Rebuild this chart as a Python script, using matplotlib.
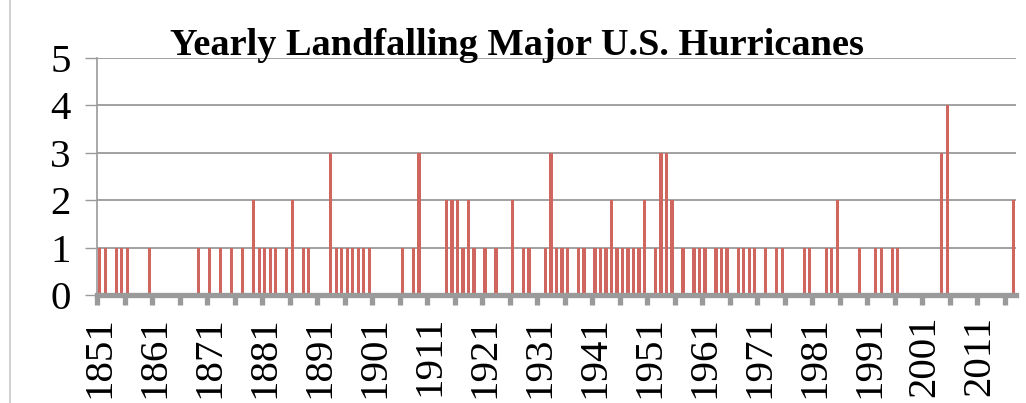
import numpy as np
import matplotlib
matplotlib.use('Agg')
import matplotlib.pyplot as plt
from matplotlib.ticker import FixedLocator

plt.rcParams['font.family'] = ['Liberation Serif', 'DejaVu Serif']

# 数据：有大型飓风登陆的年份及次数（其余年份为 0）
first_year = 1851
last_year = 2017
landfall_years = [1851, 1852, 1854, 1855, 1856, 1860, 1869, 1871, 1873, 1875,
                  1877, 1879, 1880, 1881, 1882, 1883, 1885, 1886, 1888, 1889,
                  1893, 1894, 1895, 1896, 1897, 1898, 1899, 1900, 1906, 1908,
                  1909, 1914, 1915, 1916, 1917, 1918, 1919, 1921, 1923, 1926,
                  1928, 1929, 1932, 1933, 1934, 1935, 1936, 1938, 1939, 1941,
                  1942, 1943, 1944, 1945, 1946, 1947, 1948, 1949, 1950, 1952,
                  1953, 1954, 1955, 1957, 1959, 1960, 1961, 1963, 1964, 1965,
                  1967, 1968, 1969, 1970, 1972, 1974, 1975, 1979, 1980, 1983,
                  1984, 1985, 1989, 1992, 1993, 1995, 1996, 2004, 2005, 2017]
landfall_counts = [1, 1, 1, 1, 1, 1, 1, 1, 1, 1,
                   1, 2, 1, 1, 1, 1, 1, 2, 1, 1,
                   3, 1, 1, 1, 1, 1, 1, 1, 1, 1,
                   3, 2, 2, 2, 1, 2, 1, 1, 1, 2,
                   1, 1, 1, 3, 1, 1, 1, 1, 1, 1,
                   1, 1, 2, 1, 1, 1, 1, 1, 2, 1,
                   3, 3, 2, 1, 1, 1, 1, 1, 1, 1,
                   1, 1, 1, 1, 1, 1, 1, 1, 1, 1,
                   1, 2, 1, 1, 1, 1, 1, 3, 4, 2]
y_ticks = [0, 1, 2, 3, 4, 5]
title = 'Yearly Landfalling Major U.S. Hurricanes'

years = list(range(first_year, last_year + 1))
counts = dict(zip(landfall_years, landfall_counts))
values = [counts.get(y, 0) for y in years]

grey = '#9a9a9a'
bar_color = '#cf6760'

fig = plt.figure(figsize=(10.26, 4.03), dpi=100)
ax = fig.add_axes([97 / 1026, 1 - 295 / 403, (1016 - 97) / 1026, (295 - 58) / 403])

x = np.arange(len(years))
ax.bar(x, values, width=0.58, color=bar_color, zorder=3)

ax.set_xlim(-0.5, len(years) - 0.5)
ax.set_ylim(0, 5)
ax.set_yticks(y_ticks)
ax.grid(axis='y', color=grey, linewidth=1.3, zorder=0)
ax.set_axisbelow(True)

# 标签每 10 年一个，刻度线每 5 年一个（在类别边界）
label_idx = x[::10]
ax.set_xticks(label_idx)
ax.set_xticklabels([str(years[i]) for i in label_idx], rotation=90, fontsize=29.5)
ax.xaxis.set_minor_locator(FixedLocator(np.arange(-0.5, len(years) - 1, 5)))
ax.tick_params(axis='x', which='major', length=0, pad=15)
ax.tick_params(axis='x', which='minor', length=7, width=3.8, color=grey)
ax.tick_params(axis='y', length=9, width=1.0, color=grey, pad=10, labelsize=29.5)

for side in ['top', 'right']:
    ax.spines[side].set_visible(False)
ax.spines['left'].set_color(grey)
ax.spines['left'].set_linewidth(1.2)
ax.spines['bottom'].set_color(grey)
ax.spines['bottom'].set_linewidth(3.8)
ax.spines['bottom'].set_zorder(4)

fig.text(0.504, 1 - 55 / 403, title, ha='center', va='baseline',
         fontsize=27.6, fontweight='bold')

# 图表外框左边线
fig.add_artist(plt.Line2D([10 / 1026, 10 / 1026], [0, 1], color='#c8c8c8', linewidth=1.2))

fig.savefig('out.png', dpi=100)
